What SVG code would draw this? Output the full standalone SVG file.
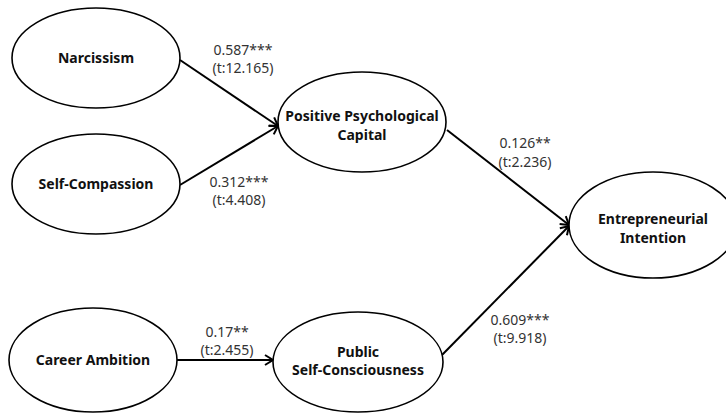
<svg xmlns="http://www.w3.org/2000/svg" width="726" height="415" viewBox="0 0 726 415">
<style>
.n{fill:#fff;stroke:#000;stroke-width:1.6}
.t{font-family:"Noto Sans","Liberation Sans",sans-serif;font-weight:bold;font-size:14px;fill:#111;text-anchor:middle}
.l{font-family:"Noto Sans","Liberation Sans",sans-serif;font-size:14px;fill:#333;text-anchor:middle}
.e{stroke:#000;stroke-width:2;fill:none;marker-end:url(#a)}
</style>
<defs>
<marker id="a" markerWidth="12" markerHeight="12" refX="10" refY="6" orient="auto" markerUnits="userSpaceOnUse">
<path d="M2,1 L10,6 L2,11" fill="none" stroke="#000" stroke-width="2"/>
</marker>
</defs>
<rect width="726" height="415" fill="#fff"/>
<g id="edges">
<line class="e" x1="180" y1="60" x2="278" y2="126"/>
<line class="e" x1="180" y1="185" x2="278" y2="126"/>
<line class="e" x1="447" y1="130" x2="569" y2="225"/>
<line class="e" x1="442" y1="355" x2="569" y2="226"/>
<line class="e" x1="177" y1="360" x2="273" y2="360"/>
<text class="l" x="243" y="55">0.587***</text>
<text class="l" x="243" y="73">(t:12.165)</text>
<text class="l" x="239" y="187">0.312***</text>
<text class="l" x="239" y="205">(t:4.408)</text>
<text class="l" x="525" y="148">0.126**</text>
<text class="l" x="525" y="167">(t:2.236)</text>
<text class="l" x="520" y="325">0.609***</text>
<text class="l" x="520" y="343">(t:9.918)</text>
<text class="l" x="227" y="337">0.17**</text>
<text class="l" x="227" y="355">(t:2.455)</text>
</g>
<g id="narcissism">
<ellipse class="n" cx="96" cy="58" rx="84" ry="50"/>
<text class="t" x="96" y="63">Narcissism</text>
</g>
<g id="self-compassion">
<ellipse class="n" cx="96" cy="184" rx="84" ry="50"/>
<text class="t" x="96" y="189">Self-Compassion</text>
</g>
<g id="ppc">
<ellipse class="n" cx="362" cy="122" rx="84" ry="50"/>
<text class="t" x="362" y="121">Positive Psychological</text>
<text class="t" x="362" y="140">Capital</text>
</g>
<g id="ei">
<ellipse class="n" cx="653" cy="225" rx="84" ry="53"/>
<text class="t" x="653" y="224">Entrepreneurial</text>
<text class="t" x="653" y="243">Intention</text>
</g>
<g id="career">
<ellipse class="n" cx="93" cy="360" rx="84" ry="52"/>
<text class="t" x="93" y="365">Career Ambition</text>
</g>
<g id="psc">
<ellipse class="n" cx="358" cy="362" rx="85" ry="50"/>
<text class="t" x="358" y="357">Public</text>
<text class="t" x="358" y="375">Self-Consciousness</text>
</g>
</svg>
